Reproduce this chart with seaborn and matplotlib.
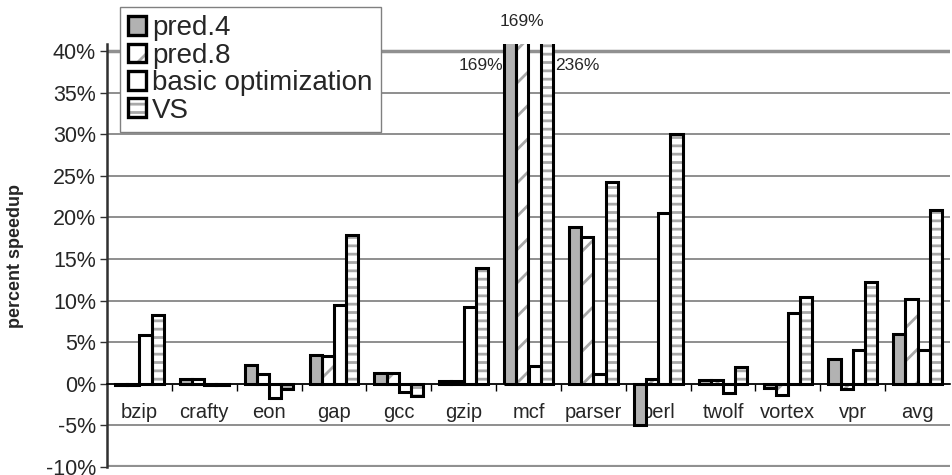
import numpy as np
import pandas as pd
import matplotlib
matplotlib.use("Agg")
import matplotlib.pyplot as plt
import seaborn as sns
from matplotlib.patches import Rectangle
from matplotlib.ticker import FuncFormatter
from matplotlib.legend_handler import HandlerTuple

benchmarks = ["bzip", "crafty", "eon", "gap", "gcc", "gzip", "mcf",
              "parser", "perl", "twolf", "vortex", "vpr", "avg"]
series = ["pred.4", "pred.8", "basic optimization", "VS"]

pred4 = [-0.1, 0.6, 2.3, 3.5, 1.3, 0.3, 169.0, 18.9, -5.0, 0.5, -0.5, 3.0, 6.0]
pred8 = [-0.1, 0.6, 1.2, 3.3, 1.3, 0.3, 169.0, 17.6, 0.6, 0.5, -1.3, -0.6, 10.2]
basic = [5.9, -0.2, -1.7, 9.5, -1.0, 9.2, 2.2, 1.2, 20.5, -1.1, 8.5, 4.1, 4.1]
vs = [8.3, -0.2, -0.6, 17.9, -1.5, 13.9, 236.0, 24.3, 30.0, 2.0, 10.4, 12.2, 20.9]

df = pd.DataFrame({
    "bench": benchmarks * 4,
    "config": [s for s in series for _ in benchmarks],
    "value": pred4 + pred8 + basic + vs,
})

sns.set_style("white")
plt.rcParams["font.family"] = ["Liberation Sans", "DejaVu Sans"]
plt.rcParams["hatch.linewidth"] = 2.0

fig = plt.figure(figsize=(9.53, 4.75), dpi=100)
ax = fig.add_axes([107 / 953, 8 / 475, 843 / 953, 423 / 475])

faces = ["#b2b2b2", "white", "white", "white"]
hatches = [None, "/", None, "--"]
hatch_gray = "#a8a8a8"

sns.barplot(data=df, x="bench", y="value", hue="config", order=benchmarks,
            hue_order=series, palette=faces, width=0.75, saturation=1,
            linewidth=0, legend=False, ax=ax, zorder=3)

# hatch in gray, outline drawn as separate black rectangles
for cont, h in zip(ax.containers, hatches):
    for p in cont:
        p.set_edgecolor(hatch_gray)
        p.set_linewidth(0)
        if h:
            p.set_hatch(h)
        ax.add_patch(Rectangle(p.get_xy(), p.get_width(), p.get_height(),
                               fill=False, edgecolor="black", linewidth=2.2,
                               zorder=4))

ax.set_ylim(-10, 40.85)
ax.set_xlim(-0.5, len(benchmarks) - 0.5)

# grid
for v in range(-5, 40, 5):
    ax.axhline(v, color="#707070", lw=1.1, zorder=1)
ax.axhline(40, color="#909090", lw=2.5, zorder=1)
ax.axhline(-10, color="#909090", lw=3, zorder=1)

for s in ["top", "right"]:
    ax.spines[s].set_visible(False)
ax.spines["left"].set_color("#303030")
ax.spines["left"].set_linewidth(1.8)
ax.spines["bottom"].set_position(("data", 0))
ax.spines["bottom"].set_color("black")
ax.spines["bottom"].set_linewidth(1.2)
ax.spines["bottom"].set_zorder(5)

ax.set_yticks(np.arange(-10, 41, 5))
ax.yaxis.set_major_formatter(FuncFormatter(lambda v, _: f"{v:.0f}%"))
ax.tick_params(axis="y", left=True, length=5, width=1, color="#303030",
               labelsize=15.5, pad=3)

ax.set_xticks(range(len(benchmarks)))
ax.set_xticklabels(benchmarks)
ax.set_xticks(np.arange(0.5, len(benchmarks) - 1, 1), minor=True)
ax.tick_params(axis="x", which="major", length=0, labelsize=14.5, pad=14)
ax.tick_params(axis="x", which="minor", bottom=True, length=5, width=1,
               color="black", direction="out")
ax.set_xlabel("")
ax.set_ylabel("percent speedup", fontsize=13, fontweight="bold")
ax.yaxis.set_label_coords(-83 / 843, 0.5)

# labels for the clipped mcf bars
mcf = benchmarks.index("mcf")
b4 = ax.containers[0][mcf]
b8 = ax.containers[1][mcf]
bv = ax.containers[3][mcf]
ax.text(b4.get_x() - 0.02, 38.3, f"{pred4[mcf]:.0f}%", ha="right", va="center",
        fontsize=12.5)
ax.text(b8.get_x() + b8.get_width() / 2, 43.6, f"{pred8[mcf]:.0f}%",
        ha="center", va="center", fontsize=12.5, clip_on=False)
ax.text(bv.get_x() + bv.get_width() + 0.03, 38.3, f"{vs[mcf]:.0f}%",
        ha="left", va="center", fontsize=12.5)

leg_handles = []
for f, ht in zip(faces, hatches):
    fill = Rectangle((0, 0), 1, 1, facecolor=f, edgecolor=hatch_gray,
                     linewidth=0, hatch=ht)
    edge = Rectangle((0, 0), 1, 1, fill=False, edgecolor="black",
                     linewidth=2.4)
    leg_handles.append((fill, edge))
leg = fig.legend(leg_handles, series, loc="upper left",
                 bbox_to_anchor=(120 / 953, 1 - 7 / 475), fontsize=20,
                 frameon=True, fancybox=False, framealpha=1,
                 edgecolor="#808080", handlelength=0.65, handleheight=0.65,
                 handletextpad=0.2, labelspacing=0.05, borderpad=0.3,
                 borderaxespad=0,
                 handler_map={tuple: HandlerTuple(ndivide=1, pad=0)})
leg.get_frame().set_linewidth(1)
leg.set_zorder(10)

fig.savefig("out.png", dpi=100)
